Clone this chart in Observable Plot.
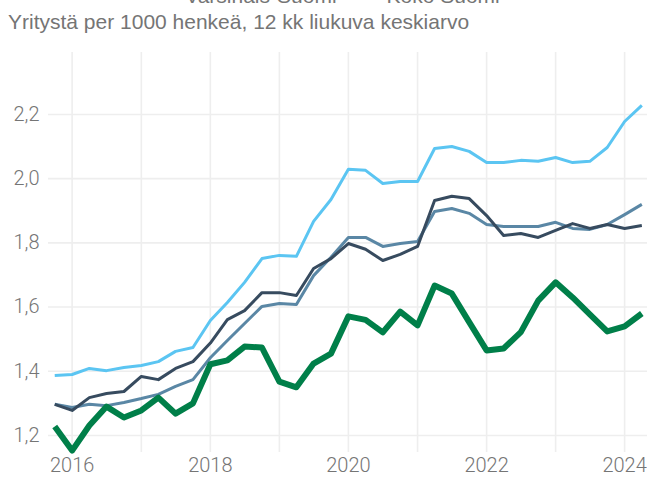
<!DOCTYPE html>
<html>
<head>
<meta charset="utf-8">
<script src="https://cdn.jsdelivr.net/npm/d3@7"></script>
<script src="https://cdn.jsdelivr.net/npm/@observablehq/plot@0.6"></script>
<style>
  html, body { margin: 0; padding: 0; background: #fff; overflow: hidden; }
  #wrap { position: relative; width: 647px; height: 479px; overflow: hidden; }
  #chart { position: absolute; left: 0; top: 0; }
  #legend { position: absolute; left: 0; width: 647px; top: -15px; display: flex; justify-content: center; gap: 0; font-family: "Liberation Sans", Arial, sans-serif; font-size: 21px; line-height: 1; color: #757575; white-space: nowrap; }
  .item { display: flex; align-items: center; margin: 0 6px; }
  .sw { display: inline-block; width: 30px; height: 3px; margin-right: 8px; }
  #subtitle { position: absolute; left: 8px; top: 11px; font-family: "Liberation Sans", Arial, sans-serif; font-size: 21px; line-height: 1; color: #757575; white-space: nowrap; }
  #chart svg text { font-weight: 300; }
</style>
</head>
<body>
<div id="wrap">
  <div id="chart"></div>
  <div id="legend"></div>
  <div id="subtitle">Yritystä per 1000 henkeä, 12 kk liukuva keskiarvo</div>
</div>
<script>
// Quarterly dates
const dates = [
  "2015-10-01","2016-01-01","2016-04-01","2016-07-01","2016-10-01",
  "2017-01-01","2017-04-01","2017-07-01","2017-10-01",
  "2018-01-01","2018-04-01","2018-07-01","2018-10-01",
  "2019-01-01","2019-04-01","2019-07-01","2019-10-01",
  "2020-01-01","2020-04-01","2020-07-01","2020-10-01",
  "2021-01-01","2021-04-01","2021-07-01","2021-10-01",
  "2022-01-01","2022-04-01","2022-07-01","2022-10-01",
  "2023-01-01","2023-04-01","2023-07-01","2023-10-01",
  "2024-01-01","2024-04-01"
];

// Series values
const lightBlue = [1.387,1.390,1.409,1.402,1.412,1.418,1.430,1.462,1.474,1.558,1.614,1.677,1.751,1.761,1.758,1.867,1.935,2.029,2.026,1.985,1.991,1.991,2.094,2.100,2.085,2.050,2.050,2.057,2.054,2.066,2.050,2.054,2.097,2.178,2.228];
const steelBlue = [1.297,1.287,1.297,1.293,1.303,1.315,1.328,1.353,1.374,1.442,1.496,1.549,1.602,1.611,1.608,1.698,1.755,1.817,1.817,1.789,1.798,1.804,1.898,1.907,1.892,1.857,1.851,1.851,1.851,1.864,1.845,1.842,1.857,1.888,1.920];
const navy      = [1.297,1.278,1.318,1.331,1.337,1.384,1.374,1.409,1.430,1.488,1.561,1.589,1.645,1.645,1.636,1.720,1.751,1.798,1.780,1.745,1.764,1.789,1.932,1.945,1.938,1.885,1.823,1.829,1.817,1.839,1.860,1.845,1.857,1.845,1.854];
const green     = [1.228,1.153,1.231,1.290,1.256,1.278,1.318,1.268,1.300,1.422,1.434,1.477,1.474,1.368,1.350,1.424,1.455,1.571,1.560,1.521,1.586,1.543,1.667,1.642,1.553,1.465,1.471,1.522,1.620,1.677,1.630,1.577,1.524,1.540,1.580];

const seriesNames = ["Sarja A", "Sarja B", "Varsinais-Suomi", "Koko Suomi"];
const seriesValues = [lightBlue, green, navy, steelBlue];
const seriesColors = ["#5bc5f2", "#007f49", "#374b5f", "#5a87a5"];
const seriesWidths = [3, 6, 3, 3];
const drawOrder = [0, 3, 2, 1];

const legendNames = ["Varsinais-Suomi", "Koko Suomi"];

const gridYears = ["2016","2017","2018","2019","2020","2021","2022","2023","2024"];
const labelYears = ["2016","2018","2020","2022","2024"];
const yTicks = [1.2, 1.4, 1.6, 1.8, 2.0, 2.2];

const parse = d3.utcParse("%Y-%m-%d");
const tables = seriesValues.map((vals, s) =>
  vals.map((v, i) => ({date: parse(dates[i]), value: v, series: seriesNames[s]})));

const gridDates = gridYears.map(y => parse(y + "-01-01"));
const labelDates = labelYears.map(y => parse(y + "-01-01"));

const chart = Plot.plot({
  width: 647,
  height: 479,
  marginTop: 52,
  marginBottom: 27,
  marginLeft: 48,
  marginRight: 0,
  style: {fontFamily: "Roboto, sans-serif", fontSize: "20px", color: "#757575", background: "white", overflow: "hidden"},
  x: {type: "utc", domain: [parse("2015-08-29"), parse("2024-05-01")], label: null},
  y: {domain: [1.147, 2.393], label: null},
  marks: [
    Plot.gridX(gridDates, {stroke: "#eeeeee", strokeOpacity: 1, strokeWidth: 1.6}),
    Plot.gridY(yTicks, {stroke: "#eeeeee", strokeOpacity: 1, strokeWidth: 1.6}),
    Plot.axisX(labelDates, {tickSize: 0, tickPadding: 5, tickFormat: d3.utcFormat("%Y"), fill: "#757575", fontSize: 20, label: null}),
    Plot.axisY(yTicks, {tickSize: 0, tickPadding: 9, tickFormat: d => d.toFixed(1).replace(".", ","), fill: "#757575", fontSize: 20, label: null}),
    ...drawOrder.map(s => Plot.line(tables[s], {
      x: "date", y: "value",
      stroke: seriesColors[s], strokeWidth: seriesWidths[s],
      strokeLinejoin: "round", strokeLinecap: "butt"
    }))
  ]
});
document.getElementById("chart").appendChild(chart);

const legend = document.getElementById("legend");
legendNames.forEach(name => {
  const s = seriesNames.indexOf(name);
  const item = document.createElement("span");
  item.className = "item";
  const sw = document.createElement("span");
  sw.className = "sw";
  sw.style.background = seriesColors[s];
  const t = document.createElement("span");
  t.textContent = name;
  item.appendChild(sw);
  item.appendChild(t);
  legend.appendChild(item);
});
</script>
</body>
</html>
